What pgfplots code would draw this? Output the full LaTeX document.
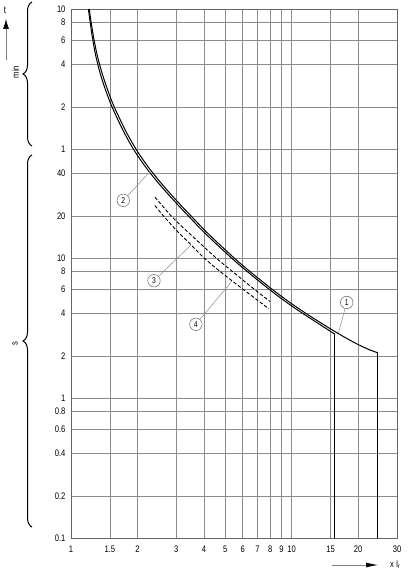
\documentclass[border=0pt]{standalone}
\usepackage{pgfplots}
\pgfplotsset{compat=1.18}
\usepackage{fontspec}
\setmainfont{Liberation Sans}[FakeStretch=0.8]
\usetikzlibrary{arrows.meta,decorations.pathreplacing}
\tikzset{
  circ/.style={circle, draw=black!60, line width=0.5pt, fill=white, inner sep=0pt, minimum size=12.5pt, font=\fontsize{8.5}{10}\selectfont},
  leader/.style={black!45, line width=0.5pt},
}
\begin{document}
\begin{tikzpicture}
\path[use as bounding box] (0pt,0pt) rectangle (410pt,580pt);
\begin{axis}[
  at={(71pt,42pt)}, anchor=south west,
  width=326pt, height=529pt, scale only axis,
  xmode=log, ymode=log,
  xmin=1, xmax=30, ymin=0.1, ymax=600,
  xtick={1,1.5,2,3,4,5,6,7,8,9,10,15,20,30},
  xticklabels={1,1.5,2,3,4,5,6,7,8,9,10,15,20,30},
  ytick={0.1,0.2,0.4,0.6,0.8,1,2,4,6,8,10,20,40,60,120,240,360,480,600},
  yticklabels={0.1,0.2,0.4,0.6,0.8,1,2,4,6,8,10,20,40,1,2,4,6,8,10},
  grid=major,
  major grid style={black!45, line width=0.6pt},
  axis line style={black!60, line width=0.8pt},
  major tick length=0pt,
  tick label style={font=\fontsize{9.5}{11}\selectfont},
  xticklabel style={yshift=-4pt},
  yticklabel style={xshift=-2pt},
]
% curve 1/2 upper branch (ends at 24.4)
\addplot[black, line width=1pt, smooth, line join=round] coordinates {
 (1.21,600) (1.230,497) (1.259,395) (1.288,326) (1.318,276) (1.365,224) (1.413,187.5)
 (1.496,145) (1.585,116) (1.778,79.6) (1.995,58.1) (2.239,44.6) (2.512,35.5) (2.818,28.8)
 (3.162,23.6) (3.548,19.5) (3.981,16.1) (4.467,13.5) (5.012,11.4) (5.623,9.65) (6.310,8.27)
 (7.079,7.13) (7.943,6.17) (8.913,5.37) (10,4.71) (11.22,4.16) (12.59,3.70) (14.13,3.30)
 (15.85,2.955) (17.78,2.66) (19.95,2.414) (22.39,2.217) (24.4,2.11)};
\addplot[black, line width=1pt, line cap=round] coordinates {(24.4,2.11) (24.4,0.1)};
% lower branch (ends at 15.6)
\addplot[black, line width=1pt, smooth, line join=round] coordinates {
 (1.199,600) (1.218,497) (1.244,395) (1.270,326) (1.296,276) (1.339,224) (1.383,187.5)
 (1.463,145) (1.549,116) (1.734,79.6) (1.941,58.1) (2.178,44.6) (2.443,35.5) (2.741,28.8)
 (3.076,23.6) (3.451,19.5) (3.872,16.1) (4.345,13.5) (4.875,11.4) (5.470,9.65) (6.133,8.27)
 (6.874,7.13) (7.705,6.17) (8.637,5.37) (9.68,4.71) (10.85,4.16) (12.16,3.70) (13.61,3.30)
 (15.6,2.87)};
\addplot[black, line width=1pt, line cap=round] coordinates {(15.6,2.87) (15.6,0.1)};
% dashed curves
\addplot[black, line width=0.9pt, dash pattern=on 3.5pt off 2pt, smooth] coordinates {
 (2.40,27.2) (2.8,20.5) (3.0,18.3) (3.5,14.6) (4.48,10.2) (5.34,8.1) (6.75,6.0) (7.97,4.89)};
\addplot[black, line width=0.9pt, dash pattern=on 3.5pt off 2pt, smooth] coordinates {
 (2.40,23.7) (2.62,20) (3.0,15.8) (3.5,12.4) (3.98,10.1) (4.74,8.0) (6.0,6.0) (7.89,4.33)};
% labels
\node[circ] (c2) at (axis cs:1.726,25.8) {2};
\draw[leader] (c2) -- (axis cs:2.30,42);
\node[circ] (c3) at (axis cs:2.377,6.88) {3};
\draw[leader] (c3) -- (axis cs:3.5,12.4);
\node[circ] (c4) at (axis cs:3.68,3.36) {4};
\draw[leader] (c4) -- (axis cs:5.35,6.8);
\node[circ] (c1) at (axis cs:17.75,4.81) {1};
\draw[leader] (c1) -- (axis cs:16.3,2.92);
\end{axis}
% left annotations
\node[font=\fontsize{10}{12}\selectfont] at (5pt,570pt) {t};
\draw[black!50, line width=0.7pt, -{Latex[length=10pt,width=6pt,black]}] (6pt,520pt) -- (6pt,561pt);
\node[rotate=90, font=\fontsize{9.5}{11}\selectfont] at (15.5pt,508pt) {min};
\draw[black, line width=1pt, decorate, decoration={brace, amplitude=9pt}] (32pt,434pt) -- (32pt,578pt);
\node[rotate=90, font=\fontsize{9.5}{11}\selectfont] at (15pt,236pt) {s};
\draw[black, line width=1pt, decorate, decoration={brace, amplitude=9pt}] (32pt,53pt) -- (32pt,425pt);
% bottom arrow
\draw[black!50, line width=0.7pt, -{Latex[length=12pt,width=5pt,black]}] (332pt,15pt) -- (378pt,15pt);
\node[anchor=west, font=\fontsize{9.5}{11}\selectfont, inner sep=0pt] at (390pt,15pt) {x I\textsubscript{r}};
\end{tikzpicture}
\end{document}
